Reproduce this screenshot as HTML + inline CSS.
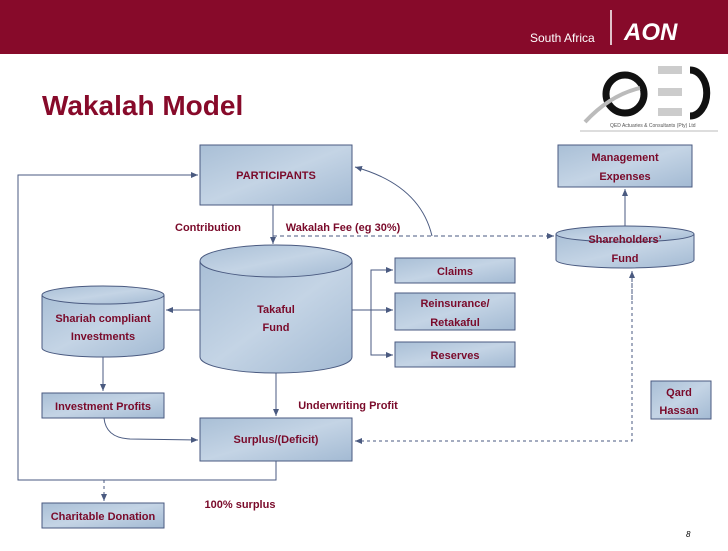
<!DOCTYPE html>
<html><head><meta charset="utf-8"><style>
body{margin:0;width:728px;height:546px;overflow:hidden;background:#fff;font-family:"Liberation Sans",sans-serif}
</style></head><body>
<svg width="728" height="546" viewBox="0 0 728 546" xmlns="http://www.w3.org/2000/svg" font-family="Liberation Sans, sans-serif">
<defs>
<linearGradient id="g" x1="0" y1="0" x2="1" y2="1">
<stop offset="0" stop-color="#a9bfd6"/><stop offset="0.5" stop-color="#c4d4e5"/><stop offset="1" stop-color="#a3bad3"/></linearGradient>
<marker id="a" markerWidth="8" markerHeight="8" refX="7" refY="4" orient="auto" markerUnits="userSpaceOnUse"><path d="M0,1 L7,4 L0,7 z" fill="#4a5a80"/></marker>
</defs>
<rect x="0" y="0" width="728" height="54" fill="#870a2a"/>
<text x="530" y="42" font-size="12" fill="#fff">South Africa</text>
<line x1="611" y1="10" x2="611" y2="45" stroke="#fff" stroke-width="1.5"/>
<text x="624" y="40" font-size="24" font-weight="bold" font-style="italic" fill="#fff">AON</text>
<circle cx="625" cy="94" r="19" fill="none" stroke="#111" stroke-width="7"/>
<path d="M585,122 Q610,95 640,88" stroke="#bbb" stroke-width="4" fill="none"/>
<rect x="658" y="66" width="24" height="8" fill="#ccc"/><rect x="658" y="88" width="24" height="8" fill="#ccc"/><rect x="658" y="108" width="24" height="8" fill="#ccc"/>
<path d="M690,70 A16,22 0 0 1 690,116" stroke="#111" stroke-width="7" fill="none"/>
<text x="610" y="127" font-size="5" fill="#555">QED Actuaries &amp; Consultants (Pty) Ltd</text>
<line x1="580" y1="131" x2="718" y2="131" stroke="#bbb"/>
<text x="42" y="115" font-size="28" font-weight="bold" fill="#870a2a">Wakalah Model</text>

<g stroke="#4a5a80" stroke-width="1" fill="url(#g)">
<rect x="200" y="145" width="152" height="60"/>
<rect x="558" y="145" width="134" height="42"/>
<rect x="395" y="258" width="120" height="25"/>
<rect x="395" y="293" width="120" height="37"/>
<rect x="395" y="342" width="120" height="25"/>
<rect x="42" y="393" width="122" height="25"/>
<rect x="200" y="418" width="152" height="43"/>
<rect x="651" y="381" width="60" height="38"/>
<rect x="42" y="503" width="122" height="25"/>
<path d="M200,261 L200,357 A76,16 0 0 0 352,357 L352,261"/>
<ellipse cx="276" cy="261" rx="76" ry="16"/>
<path d="M42,295 L42,348 A61,9 0 0 0 164,348 L164,295"/>
<ellipse cx="103" cy="295" rx="61" ry="9"/>
<path d="M556,234 L556,260 A69,8 0 0 0 694,260 L694,234"/>
<ellipse cx="625" cy="234" rx="69" ry="8"/>
</g>

<g stroke="#4a5a80" stroke-width="1" fill="none">
<line x1="273" y1="205" x2="273" y2="244" marker-end="url(#a)"/>
<line x1="273" y1="236" x2="554" y2="236" stroke-dasharray="4,3" marker-end="url(#a)"/>
<path d="M432,236 Q420,185 355,167" marker-end="url(#a)"/>
<line x1="625" y1="226" x2="625" y2="189" marker-end="url(#a)"/>
<line x1="200" y1="310" x2="166" y2="310" marker-end="url(#a)"/>
<line x1="352" y1="310" x2="393" y2="310" marker-end="url(#a)"/>
<polyline points="393,270 371,270 371,355 393,355" />
<line x1="371" y1="270" x2="393" y2="270" marker-end="url(#a)"/>
<line x1="371" y1="355" x2="393" y2="355" marker-end="url(#a)"/>
<line x1="103" y1="357" x2="103" y2="391" marker-end="url(#a)"/>
<path d="M104,418 Q106,438 130,439 L198,440" marker-end="url(#a)"/>
<line x1="276" y1="373" x2="276" y2="416" marker-end="url(#a)"/>
<polyline points="632,271 632,441 356,441" stroke-dasharray="3,3"/>
<line x1="360" y1="441" x2="355" y2="441" marker-end="url(#a)"/>
<line x1="632" y1="300" x2="632" y2="271" stroke-dasharray="3,3" marker-end="url(#a)"/>
<polyline points="276,461 276,480 18,480 18,175 198,175"/>
<line x1="190" y1="175" x2="198" y2="175" marker-end="url(#a)"/>
<line x1="104" y1="480" x2="104" y2="501" stroke-dasharray="3,3" marker-end="url(#a)"/>
</g>

<g font-size="11" font-weight="bold" fill="#7a0a2a" text-anchor="middle">
<text x="276" y="179">PARTICIPANTS</text>
<text x="625" y="161">Management</text><text x="625" y="180">Expenses</text>
<text x="625" y="243">Shareholders’</text><text x="625" y="262">Fund</text>
<text x="276" y="313">Takaful</text><text x="276" y="331">Fund</text>
<text x="103" y="322">Shariah compliant</text><text x="103" y="340">Investments</text>
<text x="455" y="275">Claims</text>
<text x="455" y="307">Reinsurance/</text><text x="455" y="326">Retakaful</text>
<text x="455" y="359">Reserves</text>
<text x="103" y="410">Investment Profits</text>
<text x="276" y="443">Surplus/(Deficit)</text>
<text x="679" y="396">Qard</text><text x="679" y="414">Hassan</text>
<text x="103" y="520">Charitable Donation</text>
<text x="208" y="231">Contribution</text>
<text x="343" y="231">Wakalah Fee (eg 30%)</text>
<text x="348" y="409">Underwriting Profit</text>
<text x="240" y="508">100% surplus</text>
</g>
<text x="686" y="537" font-size="8" font-style="italic" fill="#000">8</text>
</svg>
</body></html>
